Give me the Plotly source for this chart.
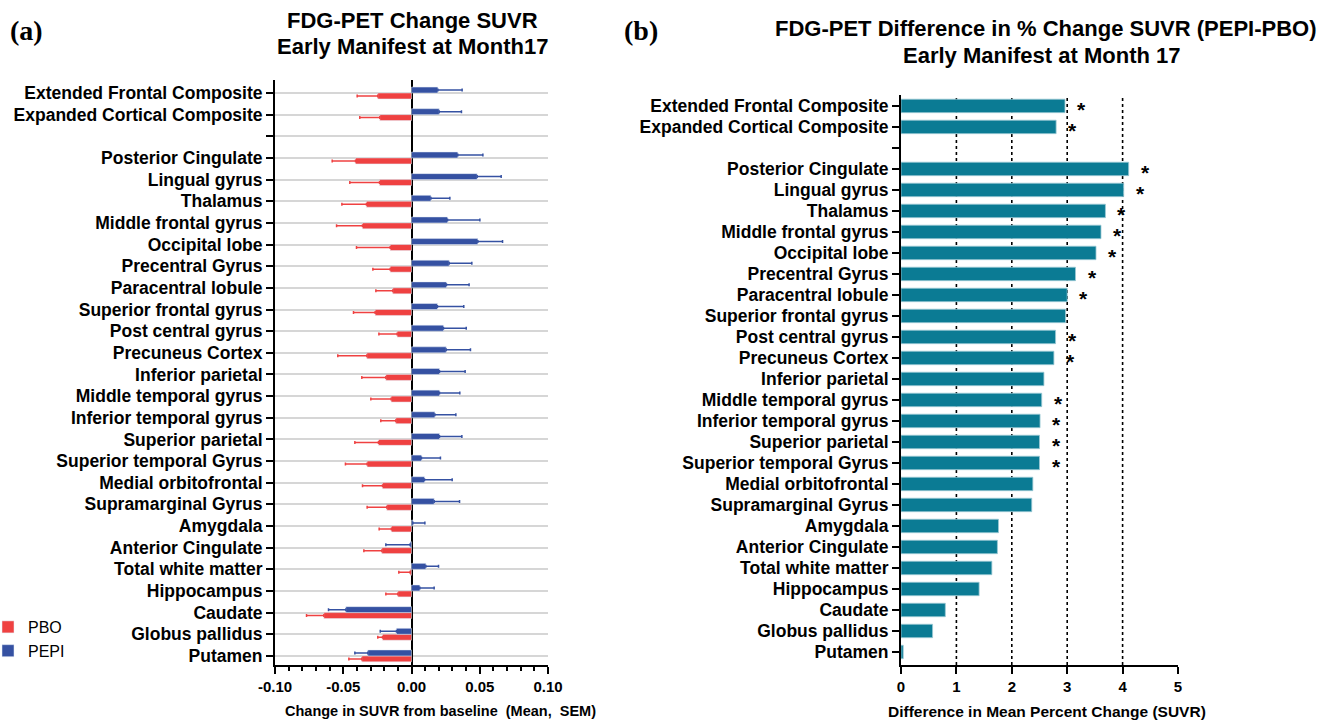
import plotly.graph_objects as go

# ---------------- data (top to bottom as in the chart) ----------------
regions = ["Extended Frontal Composite", "Expanded Cortical Composite", " ",
           "Posterior Cingulate", "Lingual gyrus", "Thalamus", "Middle frontal gyrus",
           "Occipital lobe", "Precentral Gyrus", "Paracentral lobule",
           "Superior frontal gyrus", "Post central gyrus", "Precuneus Cortex",
           "Inferior parietal", "Middle temporal gyrus", "Inferior temporal gyrus",
           "Superior parietal", "Superior temporal Gyrus", "Medial orbitofrontal",
           "Supramarginal Gyrus", "Amygdala", "Anterior Cingulate", "Total white matter",
           "Hippocampus", "Caudate", "Globus pallidus", "Putamen"]

pbo_mean = [-0.0247, -0.0232, None, -0.0410, -0.0234, -0.0330, -0.0359, -0.0156, -0.0156,
            -0.0137, -0.0266, -0.0105, -0.0327, -0.0188, -0.0149, -0.0115, -0.0242, -0.0325,
            -0.0212, -0.0181, -0.0147, -0.0217, -0.0010, -0.0100, -0.0642, -0.0212, -0.0364]
pbo_sem = [0.0151, 0.0147, 0, 0.0171, 0.0218, 0.0180, 0.0190, 0.0247, 0.0127,
           0.0124, 0.0159, 0.0134, 0.0213, 0.0176, 0.0149, 0.0110, 0.0173, 0.0159,
           0.0147, 0.0144, 0.0090, 0.0132, 0.0083, 0.0088, 0.0127, 0.0035, 0.0095]
pepi_mean = [0.0193, 0.0203, None, 0.0339, 0.0481, 0.0142, 0.0264, 0.0486, 0.0276,
             0.0256, 0.0190, 0.0234, 0.0254, 0.0205, 0.0205, 0.0171, 0.0205, 0.0073,
             0.0095, 0.0166, 0.0010, -0.0010, 0.0105, 0.0061, -0.0481, -0.0110, -0.0320]
pepi_sem = [0.0178, 0.0163, 0, 0.0184, 0.0176, 0.0139, 0.0237, 0.0181, 0.0166,
            0.0166, 0.0193, 0.0167, 0.0178, 0.0188, 0.0149, 0.0154, 0.0164, 0.0139,
            0.0203, 0.0186, 0.0088, 0.0178, 0.0093, 0.0105, 0.0127, 0.0119, 0.0095]

diff_pct = [2.96, 2.80, None, 4.11, 4.02, 3.69, 3.61, 3.52, 3.15, 3.00, 2.97, 2.79, 2.76,
            2.58, 2.54, 2.51, 2.50, 2.50, 2.38, 2.36, 1.76, 1.74, 1.64, 1.41, 0.80, 0.57, 0.04]
significant = [1, 1, 0, 1, 1, 1, 1, 1, 1, 1, 0, 1, 1, 0, 1, 1, 1, 1, 0, 0, 0, 0, 0, 0, 0, 0, 0]

left_ticks = [-0.10, -0.05, 0.00, 0.05, 0.10]
left_ticktext = ["-0.10", "-0.05", "0.00", "0.05", "0.10"]
right_ticks = [0, 1, 2, 3, 4, 5]
right_grid = [1, 2, 3, 4]

left_title = ["FDG-PET Change SUVR", "Early Manifest at Month17"]
right_title = ["FDG-PET Difference in % Change SUVR (PEPI-PBO)", "Early Manifest at Month 17"]
left_xtitle = "Change in SUVR from baseline\u00a0\u00a0(Mean,\u00a0\u00a0SEM)"
right_xtitle = "Difference in Mean Percent Change (SUVR)"

# ---------------- styles ----------------
RED = "#EF4141"
BLUE = "#3551A2"
TEAL = "#0B7B94"
FONT = "Liberation Sans"
W = 1327
H = 720


def one_sided(vals, sems):
    plus, minus = [], []
    for v, s in zip(vals, sems):
        if v is None:
            plus.append(0); minus.append(0)
        elif v >= 0:
            plus.append(s); minus.append(0)
        else:
            plus.append(0); minus.append(s)
    return plus, minus


pbo_p, pbo_m = one_sided(pbo_mean, pbo_sem)
pepi_p, pepi_m = one_sided(pepi_mean, pepi_sem)

fig = go.Figure()
fig.add_trace(go.Bar(
    name="PBO", y=regions, x=pbo_mean, orientation="h", marker_color=RED,
    error_x=dict(type="data", symmetric=False, array=pbo_p, arrayminus=pbo_m,
                 color=RED, thickness=1.5, width=1.5),
    xaxis="x", yaxis="y"))
fig.add_trace(go.Bar(
    name="PEPI", y=regions, x=pepi_mean, orientation="h", marker_color=BLUE,
    error_x=dict(type="data", symmetric=False, array=pepi_p, arrayminus=pepi_m,
                 color=BLUE, thickness=1.5, width=1.5),
    xaxis="x", yaxis="y"))
fig.add_trace(go.Bar(
    name="diff", y=regions, x=diff_pct, orientation="h", showlegend=False,
    marker=dict(color=TEAL, line=dict(color="#9cc9d4", width=0.8)),
    xaxis="x2", yaxis="y2", width=0.64))

cat_order = regions[::-1]
ytick_font = dict(family=FONT, size=17.5, color="black", weight="bold")
xtick_font = dict(family=FONT, size=15, color="black", weight="bold")

fig.update_layout(
    width=W, height=H, margin=dict(l=0, r=0, t=0, b=0, autoexpand=False),
    paper_bgcolor="white", plot_bgcolor="white",
    barmode="group", bargap=0.45, bargroupgap=0,
    font=dict(family=FONT, color="black"),
    showlegend=True,
    legend=dict(x=-12 / W, y=1 - 610 / H, xanchor="left", yanchor="top",
                font=dict(family=FONT, size=16, color="black"),
                itemwidth=30, tracegroupgap=0, bgcolor="rgba(0,0,0,0)"),
    xaxis=dict(domain=[275 / W, 548 / W], anchor="y", range=[-0.1, 0.1],
               tickvals=left_ticks, ticktext=left_ticktext, tickfont=xtick_font,
               showline=True, linecolor="black", linewidth=2, mirror=False,
               ticks="outside", ticklen=7, tickwidth=2, tickcolor="black",
               minor=dict(dtick=0.01, ticks="outside", ticklen=4, tickwidth=1.5,
                          tickcolor="black", showgrid=False),
               showgrid=False, zeroline=True, zerolinecolor="black", zerolinewidth=2),
    yaxis=dict(domain=[1 - 665 / H, 1 - 80 / H], anchor="x", type="category",
               categoryorder="array", categoryarray=cat_order, range=[-0.42, 26.6],
               tickfont=ytick_font, showline=True, linecolor="black", linewidth=2,
               ticks="outside", ticklen=7, tickwidth=2, tickcolor="black",
               showgrid=True, gridcolor="#d6d6d6", gridwidth=2),
    xaxis2=dict(domain=[901 / W, 1178 / W], anchor="y2", range=[0, 5],
                tickvals=right_ticks, tickfont=xtick_font,
                showline=True, linecolor="black", linewidth=2,
                ticks="outside", ticklen=7, tickwidth=2, tickcolor="black",
                showgrid=False, zeroline=False),
    yaxis2=dict(domain=[1 - 665 / H, 1 - 95 / H], anchor="x2", type="category",
                categoryorder="array", categoryarray=cat_order, range=[-0.62, 26.52],
                tickfont=ytick_font, showline=True, linecolor="black", linewidth=2,
                ticks="outside", ticklen=7, tickwidth=2, tickcolor="black",
                showgrid=False),
)

# dotted reference lines on right panel
for gx in right_grid:
    fig.add_shape(type="line", xref="x2", yref="y2 domain", x0=gx, x1=gx, y0=0, y1=1,
                  line=dict(color="black", width=1.6, dash="dot"), layer="below")

# significance stars
for r, v, s in zip(regions, diff_pct, significant):
    if s:
        fig.add_annotation(x=v, y=r, xref="x2", yref="y2", text="*", showarrow=False,
                           xanchor="left", yanchor="middle", xshift=10, yshift=-4,
                           font=dict(family=FONT, size=21, color="black", weight="bold"))


def label(text, x, y, size, family=FONT, weight="bold", xanchor="center"):
    fig.add_annotation(x=x / W, y=1 - y / H, xref="paper", yref="paper", text=text,
                       showarrow=False, xanchor=xanchor, yanchor="middle",
                       font=dict(family=family, size=size, color="black", weight=weight))


# titles
label(left_title[0], 412, 20, 22)
label(left_title[1], 412, 47, 22)
label(right_title[0], 1046, 29, 22)
label(right_title[1], 1042, 56, 22)
# axis titles
label(left_xtitle, 440, 711, 14.5)
label(right_xtitle, 1047, 711, 15.5)
# panel tags
label("(a)", 8, 31, 28, family="Liberation Serif", xanchor="left")
label("(b)", 622, 31, 28, family="Liberation Serif", xanchor="left")

fig.write_html("out.html")
